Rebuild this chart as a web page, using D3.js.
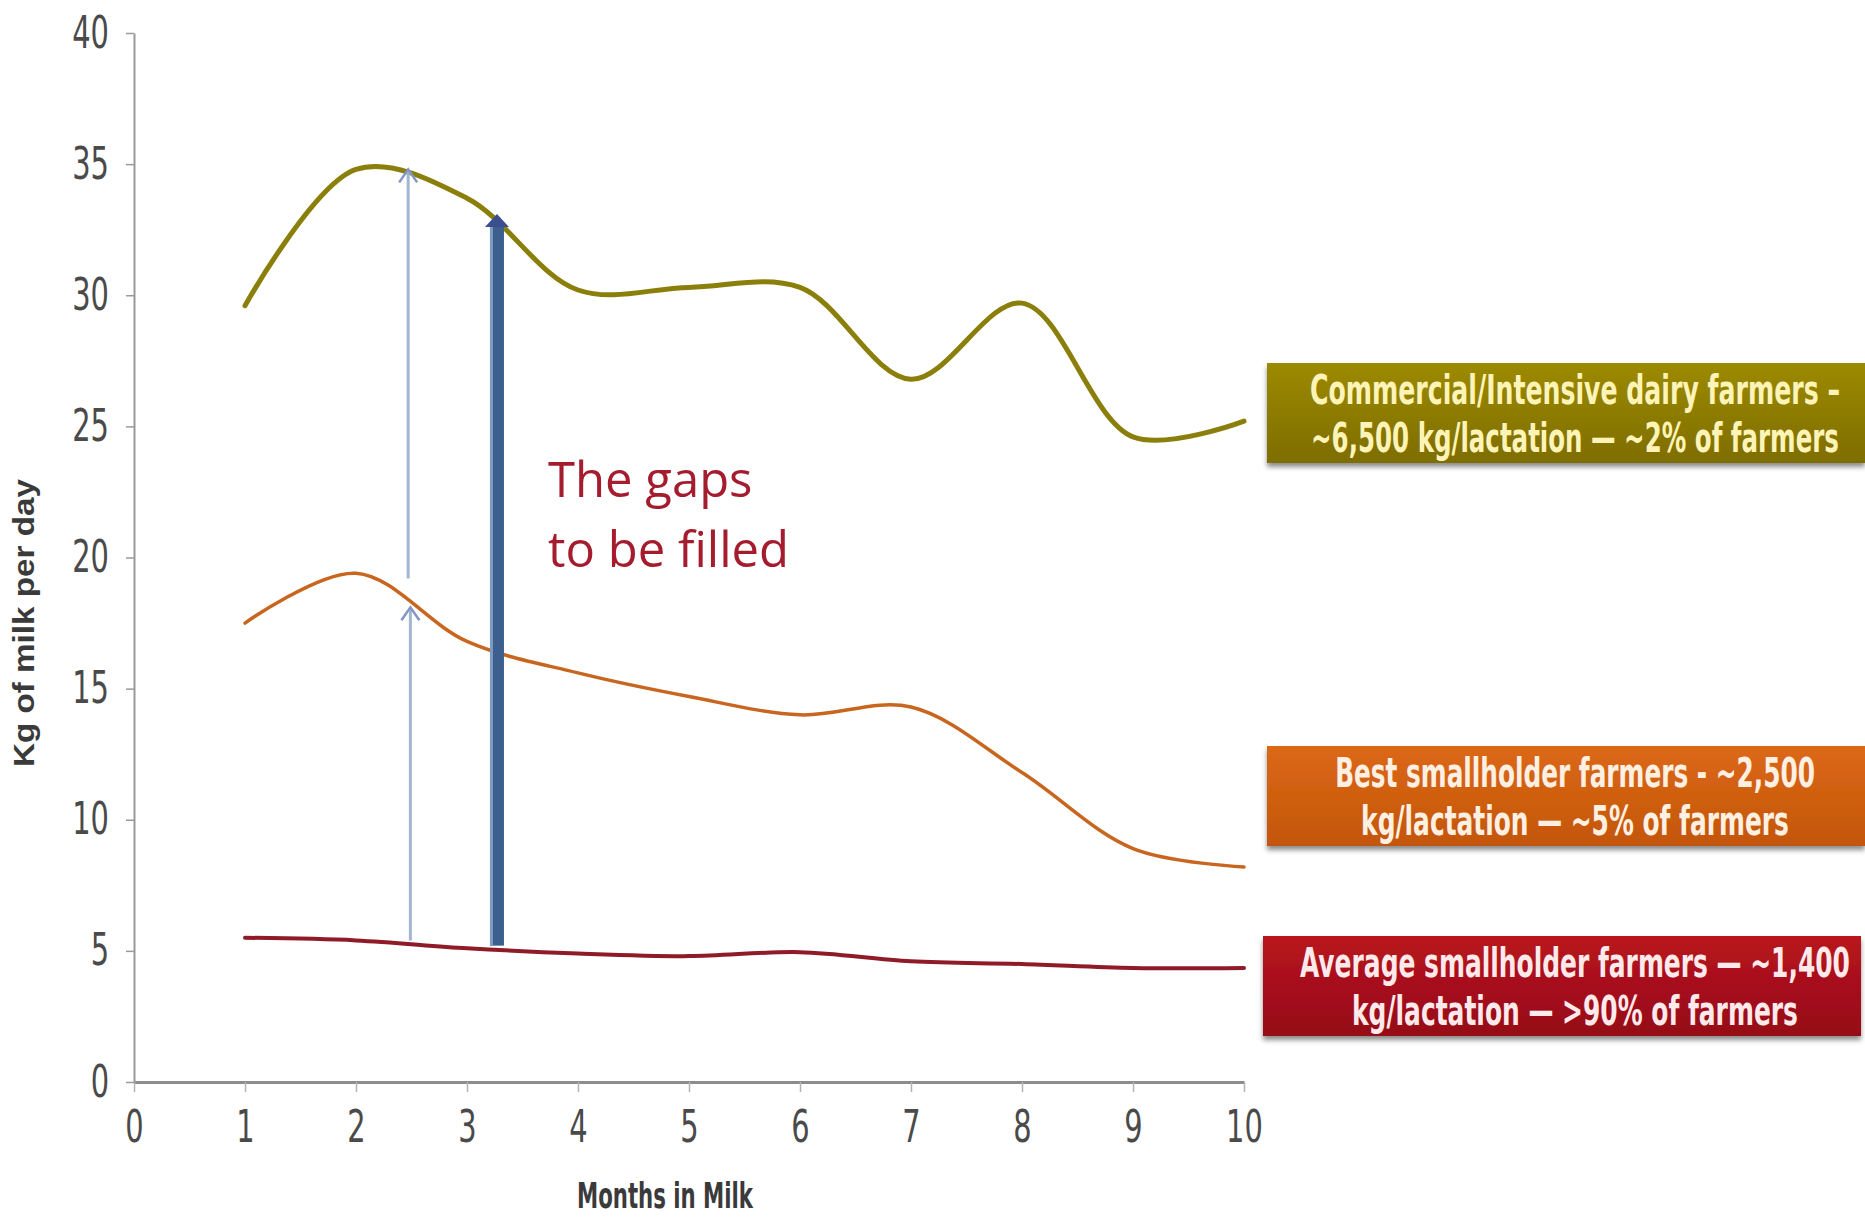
<!DOCTYPE html>
<html>
<head>
<meta charset="utf-8">
<script src="https://cdn.jsdelivr.net/npm/d3@7"></script>
<style>
  body { margin: 0; background: #ffffff; }
  svg { display: block; }
</style>
</head>
<body>
<div id="chart"></div>
<script>
// values (kg of milk per day, months 1..10)
var months = [1, 2, 3, 4, 5, 6, 7, 8, 9, 10];
var commercial = [29.6, 34.8, 33.7, 30.2, 30.3, 30.3, 26.8, 29.7, 24.6, 25.2];
var bestSmallholder = [17.5, 19.4, 16.8, 15.6, 14.7, 14.0, 14.3, 11.8, 8.9, 8.2];
var avgSmallholder = [5.5, 5.4, 5.1, 4.9, 4.8, 4.95, 4.6, 4.5, 4.35, 4.35];

var xTicks = [0, 1, 2, 3, 4, 5, 6, 7, 8, 9, 10];
var yTicks = [0, 5, 10, 15, 20, 25, 30, 35, 40];

// gap arrows: month, start value, tip value
var arrowMonths = [2.49, 2.47, 3.27];
var arrowFrom = [5.4, 19.2, 5.2];
var arrowTo = [18.1, 34.8, 33.1];
var arrowThick = [false, false, true];

var boxLabels = [
  ["Commercial/Intensive dairy farmers \u2013", "~6,500 kg/lactation \u2014 ~2% of farmers"],
  ["Best smallholder farmers - ~2,500", "kg/lactation \u2014 ~5% of farmers"],
  ["Average smallholder farmers \u2014 ~1,400", "kg/lactation \u2014 >90% of farmers"]
];
var gapText = ["The gaps", "to be filled"];

var width = 1865, height = 1219;
var narrow = '"Liberation Sans Narrow", "DejaVu Sans Condensed", "Liberation Sans", sans-serif';
var squeeze = 0.73; // tick digits are tall and narrow in the original

var svg = d3.select('#chart')
  .append('svg')
    .attr('width', width)
    .attr('height', height);

// squeeze a text horizontally so it spans the given width
function fitText(sel, pre, target) {
  var w = sel.node().getComputedTextLength();
  sel.attr('transform', pre + ' scale(' + (target / w) + ',1)');
}

var defs = svg.append('defs');

// soft shadow under the label boxes
var shadow = defs.append('filter').attr('id', 'shadow')
  .attr('x', '-5%').attr('y', '-10%').attr('width', '110%').attr('height', '130%');
shadow.append('feDropShadow')
  .attr('dx', 0).attr('dy', 4).attr('stdDeviation', 2.5)
  .attr('flood-color', '#000').attr('flood-opacity', 0.45);

var boxGrad = [['#9c8a06', '#7e6d00'], ['#dc6816', '#c3560b'], ['#b8141f', '#950c18']];
boxGrad.forEach(function(g, i) {
  var lg = defs.append('linearGradient').attr('id', 'box' + i)
    .attr('x1', 0).attr('y1', 0).attr('x2', 0).attr('y2', 1);
  lg.append('stop').attr('offset', '0%').attr('stop-color', g[0]);
  lg.append('stop').attr('offset', '100%').attr('stop-color', g[1]);
});

// scales
var x = d3.scaleLinear().domain([0, 10]).range([134, 1244]);
var y = d3.scaleLinear().domain([0, 40]).range([1082, 33]);

// X axis
var xAxis = svg.append('g')
  .attr('transform', 'translate(0,' + y(0) + ')')
  .call(d3.axisBottom(x).tickValues(xTicks).tickSize(10).tickSizeOuter(0).tickPadding(19));
xAxis.attr('font-family', narrow).attr('font-size', 44);
xAxis.select('.domain').attr('stroke', '#8c8c8c').attr('stroke-width', 3);
xAxis.selectAll('.tick line').attr('stroke', '#b3b3b3').attr('stroke-width', 1.5);
xAxis.selectAll('.tick text')
  .attr('fill', '#4a4a4a')
  .attr('transform', 'scale(' + squeeze + ',1)');

// Y axis
var yAxis = svg.append('g')
  .attr('transform', 'translate(' + x(0) + ',0)')
  .call(d3.axisLeft(y).tickValues(yTicks).tickSize(8).tickSizeOuter(0).tickPadding(17));
yAxis.attr('font-family', narrow).attr('font-size', 44);
yAxis.select('.domain').attr('stroke', '#9a9a9a').attr('stroke-width', 2);
yAxis.selectAll('.tick line').attr('stroke', '#9a9a9a').attr('stroke-width', 1.5);
yAxis.selectAll('.tick text')
  .attr('fill', '#4a4a4a')
  .attr('x', -25 / squeeze)
  .attr('transform', 'scale(' + squeeze + ',1)');

// axis titles
var yTitle = svg.append('text')
  .attr('text-anchor', 'middle')
  .attr('font-family', '"Liberation Sans", Arial, sans-serif')
  .attr('font-weight', 'bold')
  .attr('font-size', 29)
  .attr('fill', '#3a3a3a')
  .text('Kg of milk per day');
fitText(yTitle, 'translate(34,' + y(17.5) + ') rotate(-90)', 288);

var xTitle = svg.append('text')
  .attr('text-anchor', 'middle')
  .attr('font-family', narrow)
  .attr('font-weight', 'bold')
  .attr('font-size', 36)
  .attr('fill', '#3a3a3a')
  .text('Months in Milk');
fitText(xTitle, 'translate(665,1208)', 176);

// lines
var line = d3.line()
  .x(function(d, i) { return x(months[i]); })
  .y(function(d) { return y(d); })
  .curve(d3.curveCatmullRom);

var series = [
  {values: avgSmallholder, color: '#8e1b27', w: 4},
  {values: bestSmallholder, color: '#c8661f', w: 3.5},
  {values: commercial, color: '#8a7f0a', w: 5}
];

svg.selectAll('path.series')
  .data(series)
  .enter()
  .append('path')
  .attr('class', 'series')
  .attr('d', function(d) { return line(d.values); })
  .attr('fill', 'none')
  .attr('stroke', function(d) { return d.color; })
  .attr('stroke-width', function(d) { return d.w; })
  .attr('stroke-linecap', 'round');

// gap arrows
arrowMonths.forEach(function(m, i) {
  var ax = x(m), y0 = y(arrowFrom[i]), y1 = y(arrowTo[i]);
  if (arrowThick[i]) {
    svg.append('rect')
      .attr('x', ax - 7).attr('y', y1 + 10)
      .attr('width', 14).attr('height', y0 - y1 - 10)
      .attr('fill', '#3d5f8d');
    svg.append('rect')
      .attr('x', ax - 7).attr('y', y1 + 10)
      .attr('width', 3).attr('height', y0 - y1 - 10)
      .attr('fill', '#7e9bc4');
    svg.append('path')
      .attr('d', 'M' + (ax - 12) + ',' + (y1 + 13) + 'L' + ax + ',' + y1 + 'L' + (ax + 12) + ',' + (y1 + 13) + 'Z')
      .attr('fill', '#3b4f8f');
  } else {
    svg.append('line')
      .attr('x1', ax).attr('x2', ax)
      .attr('y1', y0).attr('y2', y1 + 2)
      .attr('stroke', '#a2b6d4').attr('stroke-width', 3);
    svg.append('path')
      .attr('d', 'M' + (ax - 9) + ',' + (y1 + 13) + 'L' + ax + ',' + y1 + 'L' + (ax + 9) + ',' + (y1 + 13))
      .attr('fill', 'none')
      .attr('stroke', '#8495c6').attr('stroke-width', 2.5);
  }
});

// annotation
svg.selectAll('text.gap')
  .data(gapText)
  .enter()
  .append('text')
  .attr('class', 'gap')
  .attr('x', x(3.73))
  .attr('y', function(d, i) { return i === 0 ? y(22.3) : y(19.65); })
  .attr('font-family', '"Open Sans", "Noto Sans", sans-serif')
  .attr('font-size', 49)
  .attr('fill', '#a41c2e')
  .text(function(d) { return d; });

// label boxes on the right
var boxTop = [363, 746, 936];
var boxLeft = [1267, 1267, 1263];
var boxText = ['#fff4b8', '#fff0e2', '#ffe9ea'];
var lineWidths = [[530, 528], [480, 428], [550, 446]];

boxLabels.forEach(function(lines, i) {
  svg.append('rect')
    .attr('x', boxLeft[i])
    .attr('y', boxTop[i])
    .attr('width', 598)
    .attr('height', 100)
    .attr('fill', 'url(#box' + i + ')')
    .attr('filter', 'url(#shadow)');
  lines.forEach(function(t, j) {
    var txt = svg.append('text')
      .attr('text-anchor', 'middle')
      .attr('font-family', narrow)
      .attr('font-weight', 'bold')
      .attr('font-size', 40)
      .attr('fill', boxText[i])
      .text(t);
    fitText(txt, 'translate(1575,' + (boxTop[i] + 41 + j * 48) + ')', lineWidths[i][j]);
  });
});
</script>
</body>
</html>
